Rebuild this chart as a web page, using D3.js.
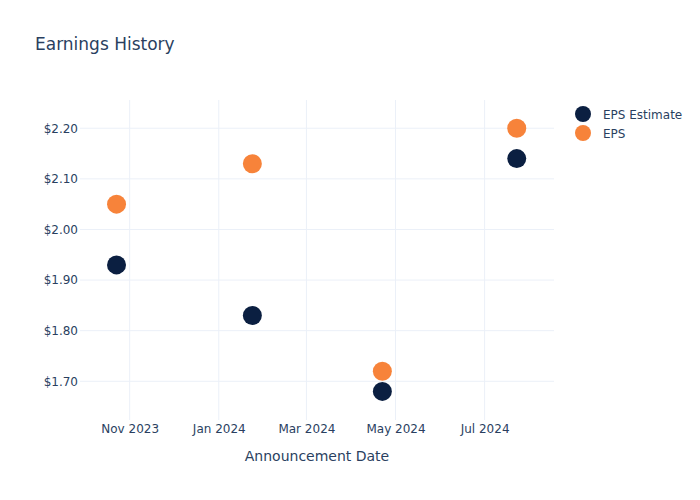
<!DOCTYPE html>
<html>
<head>
<meta charset="utf-8">
<script src="https://cdn.jsdelivr.net/npm/d3@7"></script>
<style>
  html, body { margin: 0; padding: 0; background: #fff; }
  svg text { font-family: "DejaVu Sans", Verdana, sans-serif; }
</style>
</head>
<body>
<svg id="chart" width="700" height="500"></svg>
<script>
// ---- data ----
const dates = ["2023-10-23", "2024-01-24", "2024-04-22", "2024-07-23"];
const epsEstimate = [1.93, 1.83, 1.68, 2.14];
const eps = [2.05, 2.13, 1.72, 2.20];
const seriesNames = ["EPS Estimate", "EPS"];
const seriesColors = ["#0b1f41", "#f7833a"];
const yTicks = [1.70, 1.80, 1.90, 2.00, 2.10, 2.20];
const xTickDates = ["2023-11-01", "2024-01-01", "2024-03-01", "2024-05-01", "2024-07-01"];
const xDomain = ["2023-09-28T00:00", "2024-08-17T12:00"];
const yDomain = [1.6235, 2.2558];

const parse = d3.isoParse;
const svg = d3.select("#chart");
const W = 700, H = 500;
const m = { l: 80, r: 146, t: 100, b: 80 };
const pw = W - m.l - m.r, ph = H - m.t - m.b;
const textColor = "#2a3f5f";
const gridColor = "#ebf0f8";

const x = d3.scaleTime().domain(xDomain.map(parse)).range([m.l, m.l + pw]);
const y = d3.scaleLinear().domain(yDomain).range([m.t + ph, m.t]);

// grid
const g = svg.append("g");
g.selectAll("line.vg").data(xTickDates).enter().append("line")
  .attr("x1", d => x(parse(d))).attr("x2", d => x(parse(d)))
  .attr("y1", m.t).attr("y2", m.t + ph)
  .attr("stroke", gridColor).attr("stroke-width", 1);
g.selectAll("line.hg").data(yTicks).enter().append("line")
  .attr("x1", m.l).attr("x2", m.l + pw)
  .attr("y1", d => y(d)).attr("y2", d => y(d))
  .attr("stroke", gridColor).attr("stroke-width", 1);

// y axis
const yAxis = d3.axisLeft(y).tickValues(yTicks).tickSize(0).tickPadding(2)
  .tickFormat(d => "$" + d3.format(".2f")(d));
const ya = svg.append("g").attr("transform", `translate(${m.l},0)`).call(yAxis);
ya.select(".domain").remove();
ya.selectAll("text").attr("fill", textColor).style("font-size", "12px");

// x axis
const fmt = d3.timeFormat("%b %Y");
const xAxis = d3.axisBottom(x).tickValues(xTickDates.map(parse)).tickSize(0).tickPadding(4)
  .tickFormat(fmt);
const xa = svg.append("g").attr("transform", `translate(0,${m.t + ph})`).call(xAxis);
xa.select(".domain").remove();
xa.selectAll("text").attr("fill", textColor).style("font-size", "12px");

// axis title
svg.append("text").attr("x", m.l + pw / 2).attr("y", 461)
  .attr("text-anchor", "middle").attr("fill", textColor).style("font-size", "14px")
  .text("Announcement Date");

// title
svg.append("text").attr("x", 35).attr("y", 50)
  .attr("fill", textColor).style("font-size", "17px").text("Earnings History");

// points
const series = [epsEstimate, eps];
series.forEach((vals, si) => {
  svg.append("g").selectAll("circle").data(vals).enter().append("circle")
    .attr("cx", (d, i) => x(parse(dates[i])))
    .attr("cy", d => y(d))
    .attr("r", 9.5)
    .attr("fill", seriesColors[si]);
});

// legend
const lg = svg.append("g");
seriesNames.forEach((n, i) => {
  const yy = 114 + i * 19;
  lg.append("circle").attr("cx", 583).attr("cy", yy).attr("r", 8).attr("fill", seriesColors[i]);
  lg.append("text").attr("x", 603).attr("y", yy + 4.5).attr("fill", textColor)
    .style("font-size", "12px").text(n);
});
</script>
</body>
</html>
